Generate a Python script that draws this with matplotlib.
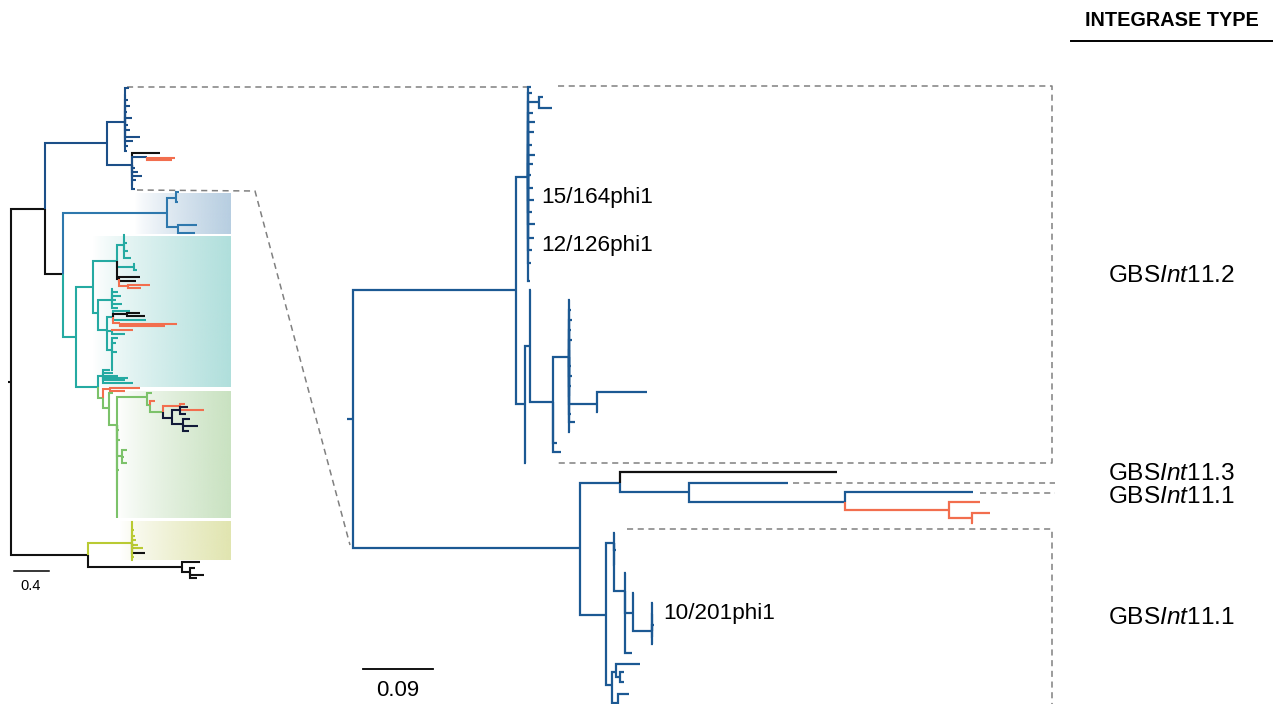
import matplotlib
matplotlib.use("Agg")
import matplotlib.pyplot as plt
import numpy as np

plt.rcParams['font.family'] = ['Liberation Sans', 'DejaVu Sans']
plt.rcParams['mathtext.fontset'] = 'custom'
plt.rcParams['mathtext.rm'] = 'Liberation Sans'
plt.rcParams['mathtext.it'] = 'Liberation Sans:italic'
plt.rcParams['mathtext.bf'] = 'Liberation Sans:bold'

# ---------------- data ----------------
COLORS = {"b": "#1c5993", "B": "#1c4f88", "m": "#2e78ad", "t": "#25aaa2",
          "g": "#7cc26a", "y": "#b9ca33", "o": "#f26e4e", "k": "#111111",
          "n": "#111a38"}

# node: (name, parent, distance from root, tip row, colour)
MAIN_ROOT = [("R0", None, -0.008, 419, "b"), ("R", "R0", 0.0, 419, "b")]
MAIN_UPPER = [
    ("A", "R", 0.2095, 290, "b"), ("A1", "A", 0.2249, 177, "b"),
    ("a1", "A1", 0.2288, 87, "b"), ("a2", "A1", 0.2301, 93, "b"),
    ("S1", "A1", 0.2391, 102, "b"), ("s1", "S1", 0.2442, 97, "b"), ("s2", "S1", 0.2558, 108, "b"),
    ("a3", "A1", 0.2314, 113, "b"), ("a4", "A1", 0.2339, 122, "b"), ("a5", "A1", 0.2326, 132, "b"),
    ("a6", "A1", 0.2301, 145, "b"), ("a7", "A1", 0.2339, 155, "b"), ("a8", "A1", 0.2314, 164, "b"),
    ("a9", "A1", 0.2288, 175, "b"), ("a10", "A1", 0.2314, 188, "b"), ("a11", "A1", 0.2326, 200, "b"),
    ("a12", "A1", 0.2301, 212, "b"), ("a13", "A1", 0.2339, 224, "b"), ("a14", "A1", 0.2326, 238, "b"),
    ("a15", "A1", 0.2301, 250, "b"), ("a16", "A1", 0.2288, 263, "b"), ("a17", "A1", 0.2275, 281, "b"),
    ("A2", "A", 0.2211, 404, "b"), ("a18", "A2", 0.2224, 463, "b"),
    ("A3", "A2", 0.2275, 346, "b"), ("a19", "A3", 0.2288, 290, "b"),
    ("A4", "A3", 0.2571, 402, "b"), ("A5", "A4", 0.2776, 357, "b"),
    ("p1", "A5", 0.2789, 300, "b"), ("p2", "A5", 0.2802, 310, "b"), ("p3", "A5", 0.2815, 320, "b"),
    ("p4", "A5", 0.2802, 330, "b"), ("p5", "A5", 0.2815, 340, "b"), ("p6", "A5", 0.2789, 350, "b"),
    ("p7", "A5", 0.2802, 366, "b"), ("p8", "A5", 0.2815, 376, "b"), ("p9", "A5", 0.2802, 386, "b"),
    ("p10", "A5", 0.2789, 396, "b"), ("p11", "A5", 0.2802, 414, "b"), ("p12", "A5", 0.2853, 422, "b"),
    ("p13", "A5", 0.2789, 432, "b"),
    ("A6", "A5", 0.3136, 404, "b"), ("p14", "A6", 0.3779, 392, "b"), ("p15", "A6", 0.3149, 412, "b"),
    ("a20", "A4", 0.2622, 443, "b"), ("a21", "A4", 0.2674, 452, "b"),
]
MAIN_LOWER = [
    ("B", "R", 0.2918, 548, "b"), ("B1", "B", 0.3432, 483, "b"),
    ("q1", "B1", 0.6221, 472, "k"), ("B2", "B1", 0.4319, 492, "b"),
    ("q2", "B2", 0.5591, 483, "b"), ("B3", "B2", 0.6324, 502, "b"),
    ("q3", "B3", 0.7969, 492, "b"), ("B4", "B3", 0.7661, 510, "o"),
    ("q4", "B4", 0.8059, 502, "o"), ("B5", "B4", 0.7956, 518, "o"),
    ("q5", "B5", 0.8188, 513, "o"), ("q6", "B5", 0.7969, 523, "o"),
    ("B6", "B", 0.3252, 615, "b"), ("C1", "B6", 0.3355, 543, "b"),
    ("c1", "C1", 0.3368, 533, "b"), ("c2", "C1", 0.3380, 550, "b"), ("c3", "C1", 0.3368, 565, "b"),
    ("C3", "C1", 0.3496, 591, "b"), ("c4", "C3", 0.3509, 573, "b"),
    ("C4", "C3", 0.3599, 613, "b"), ("c5", "C4", 0.3612, 593, "b"),
    ("C5", "C4", 0.3843, 631, "b"),
    ("c6", "C5", 0.3856, 603, "b"), ("c7", "C5", 0.3856, 614, "b"), ("c8", "C5", 0.3869, 625, "b"),
    ("c9", "C5", 0.3856, 637, "b"), ("c10", "C5", 0.3856, 644, "b"),
    ("c11", "C3", 0.3586, 653, "b"),
    ("C2", "B6", 0.3329, 685, "b"), ("C6", "C2", 0.3380, 672, "b"),
    ("c12", "C6", 0.3689, 664, "b"), ("C7", "C6", 0.3432, 677, "b"),
    ("c13", "C7", 0.3483, 672, "b"), ("c14", "C7", 0.3483, 682, "b"),
    ("C8", "C2", 0.3406, 703, "b"), ("c15", "C8", 0.3548, 694, "b"), ("c16", "C8", 0.3419, 712, "b"),
]

INSET_ROOT = [("L0", None, -0.034, 382, "k"), ("L", "L0", 0.0, 382, "k")]
INSET_BLUE = [
    ("U", "L", 0.389, 209, "k"), ("U1", "U", 1.097, 143, "B"), ("U1a", "U1", 1.303, 122, "B"),
    ("u1", "U1a", 1.349, 88, "B"), ("u2", "U1a", 1.314, 95, "B"), ("u3", "U1a", 1.337, 100, "B"),
    ("u4", "U1a", 1.360, 106, "B"), ("u5", "U1a", 1.326, 112, "B"), ("u6", "U1a", 1.383, 118, "B"),
    ("u7", "U1a", 1.337, 125, "B"), ("u8", "U1a", 1.360, 130, "B"), ("u9", "U1a", 1.474, 137, "B"),
    ("u10", "U1a", 1.394, 141, "B"), ("u11", "U1a", 1.337, 146, "B"), ("u12", "U1a", 1.326, 151, "B"),
    ("U1b", "U1", 1.383, 165, "B"), ("u13", "U1b", 1.703, 153, "k"),
    ("U1c", "U1b", 1.554, 157, "B"), ("u14", "U1c", 1.874, 158, "o"), ("u15", "U1c", 1.840, 160, "o"),
    ("u16", "U1b", 1.417, 168, "B"), ("u17", "U1b", 1.451, 172, "B"), ("u18", "U1b", 1.497, 176, "B"),
    ("u19", "U1b", 1.429, 180, "B"), ("u20", "U1b", 1.394, 185, "B"), ("u21", "U1b", 1.417, 189, "B"),
    ("U2", "U", 0.594, 274, "k"), ("U3", "U2", 1.783, 213, "m"),
    ("U3a", "U3", 1.886, 198, "m"), ("v1", "U3a", 1.920, 192, "m"), ("v2", "U3a", 1.909, 202, "m"),
    ("U3b", "U3", 1.909, 227, "m"), ("v3", "U3b", 2.126, 225, "m"), ("v4", "U3b", 2.103, 233, "m"),
]
INSET_TEAL = [
    ("U4", "U2", 0.743, 337, "t"), ("T1", "U4", 0.937, 287, "t"), ("T2", "T1", 1.211, 261, "t"),
    ("T2a", "T2", 1.291, 245, "t"), ("w1", "T2a", 1.303, 235, "t"), ("w2", "T2a", 1.326, 243, "t"),
    ("w3", "T2a", 1.337, 251, "t"), ("w4", "T2a", 1.371, 258, "t"),
    ("T2b", "T2", 1.406, 267, "t"), ("w5", "T2b", 1.417, 264, "t"), ("w6", "T2b", 1.440, 270, "t"),
    ("T2c", "T2", 1.234, 279, "k"), ("w7", "T2c", 1.474, 277, "k"), ("w8", "T2c", 1.429, 281, "k"),
    ("T2d", "T2c", 1.337, 286, "o"), ("w9", "T2d", 1.589, 285, "o"), ("w10", "T2d", 1.486, 288, "o"),
    ("T3", "T1", 0.994, 313, "t"), ("T3a", "T3", 1.154, 300, "t"),
    ("x1", "T3a", 1.166, 289, "t"), ("x2", "T3a", 1.223, 292, "t"), ("x3", "T3a", 1.257, 296, "t"),
    ("x4", "T3a", 1.200, 300, "t"), ("x5", "T3a", 1.269, 304, "t"), ("x6", "T3a", 1.223, 308, "t"),
    ("T3b", "T3", 1.097, 330, "t"), ("T3c", "T3b", 1.166, 317, "t"),
    ("x7", "T3c", 1.360, 311, "t"), ("T3k", "T3c", 1.326, 314, "k"),
    ("x8", "T3k", 1.474, 313, "k"), ("x9", "T3k", 1.531, 316, "k"),
    ("x10", "T3c", 1.543, 320, "t"), ("T3o", "T3c", 1.246, 323, "o"),
    ("x11", "T3o", 1.897, 324, "o"), ("x12", "T3o", 1.760, 326, "o"),
    ("T3d", "T3b", 1.154, 331, "t"), ("x13", "T3d", 1.394, 330, "o"), ("x14", "T3d", 1.303, 334, "t"),
    ("T3e", "T3b", 1.154, 350, "t"), ("x15", "T3e", 1.223, 338, "t"), ("x16", "T3e", 1.200, 343, "t"),
    ("x17", "T3e", 1.211, 352, "t"), ("x18", "T3e", 1.166, 370, "t"),
    ("T4", "U4", 0.994, 387, "t"), ("T4a", "T4", 1.051, 376, "t"),
    ("x19", "T4a", 1.131, 370, "t"), ("x20", "T4a", 1.166, 373, "t"), ("x21", "T4a", 1.223, 376, "t"),
    ("x22", "T4a", 1.303, 380, "t"), ("x23", "T4a", 1.394, 383, "t"), ("x24", "T4a", 1.337, 378, "t"),
]
INSET_GREEN = [
    ("G", "T4", 1.051, 398, "g"), ("O1", "G", 1.131, 389, "o"),
    ("z1", "O1", 1.474, 388, "o"), ("z2", "O1", 1.303, 391, "o"),
    ("G1", "G", 1.120, 408, "g"), ("z3", "G1", 1.166, 393, "g"),
    ("N", "G1", 1.211, 425, "g"), ("N1", "N", 1.554, 397, "g"), ("z4", "N1", 1.611, 393, "g"),
    ("N2", "N1", 1.589, 405, "g"), ("z5", "N2", 1.646, 401, "o"),
    ("N3", "N2", 1.737, 412, "g"), ("O2", "N3", 1.931, 406, "o"),
    ("z6", "O2", 2.206, 410, "o"), ("z7", "O2", 1.989, 404, "o"),
    ("K1", "N3", 1.840, 418, "n"), ("K2", "K1", 1.931, 410, "n"),
    ("z8", "K2", 2.023, 407, "n"), ("z9", "K2", 2.000, 414, "n"),
    ("K3", "K1", 1.966, 424, "n"), ("z10", "K3", 2.046, 419, "n"),
    ("z11", "K3", 2.137, 426, "n"), ("z12", "K3", 2.034, 431, "n"),
    ("N4", "N", 1.269, 456, "g"), ("z13", "N4", 1.326, 450, "g"),
    ("z14", "N4", 1.326, 463, "g"), ("z15", "N4", 1.291, 457, "g"),
    ("z16", "N", 1.234, 430, "g"), ("z17", "N", 1.246, 440, "g"), ("z18", "N", 1.234, 470, "g"),
    ("z19", "N", 1.223, 490, "g"), ("z20", "N", 1.217, 518, "g"),
]
INSET_YELLOW = [
    ("Y", "L", 0.880, 555, "k"), ("Yg", "Y", 1.383, 543, "y"),
    ("y1", "Yg", 1.394, 522, "y"), ("y2", "Yg", 1.406, 530, "y"), ("y3", "Yg", 1.417, 536, "y"),
    ("y4", "Yg", 1.429, 540, "y"), ("y5", "Yg", 1.451, 545, "y"), ("y6", "Yg", 1.509, 548, "y"),
    ("y7", "Yg", 1.531, 553, "k"), ("y8", "Yg", 1.406, 557, "y"), ("y9", "Yg", 1.394, 560, "y"),
    ("Yb", "Y", 1.954, 567, "k"), ("y10", "Yb", 2.160, 562, "k"), ("Yb2", "Yb", 2.046, 572, "k"),
    ("y11", "Yb2", 2.103, 568, "k"), ("y12", "Yb2", 2.206, 575, "k"), ("y13", "Yb2", 2.126, 578, "k"),
]

MAIN_SCALE = 0.09
INSET_SCALE = 0.4
TIP_LABELS = ["15/164phi1", "12/126phi1", "10/201phi1"]
TYPE_LABELS = ["GBS$\\it{Int}$11.2", "GBS$\\it{Int}$11.3", "GBS$\\it{Int}$11.1", "GBS$\\it{Int}$11.1"]
HEADER = "INTEGRASE TYPE"

# ---------------- figure ----------------
W, H = 1273, 704
fig = plt.figure(figsize=(W / 100, H / 100), dpi=100)

def full_axes(label, xlim):
    ax = fig.add_axes([0, 0, 1, 1], label=label)
    ax.set_xlim(*xlim)
    ax.set_ylim(H, 0)
    ax.axis('off')
    ax.patch.set_alpha(0)
    return ax

ax_bg = full_axes('bg', (0, W))
# inset tree: root at px 11, 87.5 px per unit
ax_in = full_axes('inset', (-11 / 87.5, (W - 11) / 87.5))
# main tree: root at px 353, 778 px per unit
ax_mn = full_axes('main', (-353 / 778, (W - 353) / 778))

# gradient boxes
for x0, x1, y0, y1, col in [(135, 231, 193, 234, "#b7cee1"), (93, 231, 236, 387, "#b0dfdc"),
                             (117, 231, 391, 518, "#c9e2c1"), (120, 231, 521, 560, "#e1e5b0")]:
    rgb = matplotlib.colors.to_rgb(col)
    img = np.zeros((1, 256, 4))
    img[..., :3] = rgb
    img[..., 3] = np.linspace(0, 1, 256) ** 0.8
    ax_bg.imshow(img, extent=(x0, x1, y1, y0), aspect='auto', interpolation='bilinear', zorder=0)

def draw_tree(ax, groups, lw):
    nodes = [n for g in groups for n in g]
    pos = {n[0]: (n[2], n[3]) for n in nodes}
    for name, parent, d, y, c in nodes:
        if parent is None:
            continue
        px, py = pos[parent]
        ax.plot([px, px, d], [py, y, y], color=COLORS[c], lw=lw,
                solid_joinstyle='miter', solid_capstyle='butt', zorder=3)

draw_tree(ax_in, [INSET_ROOT, INSET_BLUE, INSET_TEAL, INSET_GREEN, INSET_YELLOW], 1.5)
draw_tree(ax_mn, [MAIN_ROOT, MAIN_UPPER, MAIN_LOWER], 1.6)

# dashed connectors
dash = dict(color="#808080", lw=1.1, ls=(0, (4, 3)), zorder=2)
ax_bg.plot([127, 527], [87, 87], **dash)
ax_bg.plot([558, 1052, 1052, 558], [86, 86, 463, 463], **dash)
ax_bg.plot([137, 255, 350], [190, 191, 545], **dash)
ax_bg.plot([793, 1055], [483, 483], **dash)
ax_bg.plot([980, 1055], [493, 493], **dash)
ax_bg.plot([627, 1052, 1052], [529, 529, 704], **dash)

# scale bars
ax_mn.plot([0.0129, 0.0129 + MAIN_SCALE], [669, 669], color='black', lw=1.3)
ax_bg.text(398, 690, f"{MAIN_SCALE:g}", fontsize=16, ha='center', va='center')
ax_in.plot([0.034, 0.034 + INSET_SCALE], [571, 571], color='black', lw=1.1)
ax_bg.text(31, 586, f"{INSET_SCALE:g}", fontsize=10.5, ha='center', va='center')

# tip labels
for txt, (x, y) in zip(TIP_LABELS, [(541, 198), (541, 245), (663, 613)]):
    ax_bg.text(x, y, txt, fontsize=16.2, ha='left', va='center')

# integrase type labels
for txt, y in zip(TYPE_LABELS, [276, 474, 497, 618]):
    ax_bg.text(1108, y, txt, fontsize=17.6, ha='left', va='center')

ax_bg.text(1172, 20, HEADER, fontsize=14.3, fontweight='bold', ha='center', va='center')
ax_bg.plot([1071, 1273], [41, 41], color='black', lw=1.4)

fig.savefig("out.png", dpi=100)
